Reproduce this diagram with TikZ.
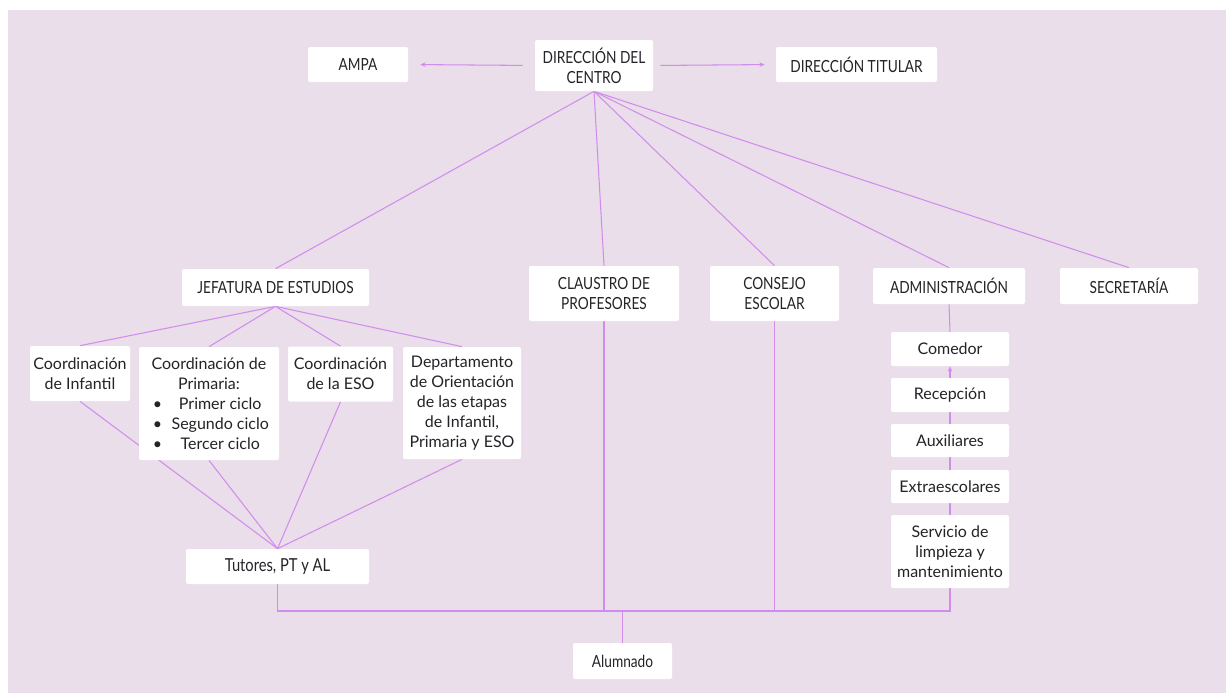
\documentclass[tikz,border=0pt]{standalone}
\usepackage{fontspec}
\setmainfont{Lato}
\newfontfamily\narrowfont[FakeStretch=0.82]{Lato}
\usetikzlibrary{arrows.meta}

\definecolor{bgCol}{RGB}{233,222,233}
\definecolor{lineCol}{RGB}{210,140,238}
\definecolor{txtCol}{RGB}{35,35,40}

\pgfdeclarelayer{bg}
\pgfdeclarelayer{edges}
\pgfsetlayers{bg,edges,main}

\begin{document}
\begin{tikzpicture}[x=0.02cm,y=-0.02cm]
%% Styles
\tikzset{
sz/.style 2 args={minimum width=#1*0.02cm, minimum height=#2*0.02cm},
box/.style={fill=white, rounded corners=0.04cm, inner sep=0pt, align=center, text=txtCol,
  font=\fontsize{9.1}{11.4}\selectfont},
capsbox/.style={box, font=\narrowfont\fontsize{9.5}{11.4}\selectfont},
conn/.style={draw=lineCol, line width=0.6pt},
arrowtip/.style={-{Stealth[length=3pt,width=2.6pt]}}
}
\useasboundingbox (0,0) rectangle (1226,693);

%% Top level
\node[capsbox,sz={118}{51}] (direccion) at (594,65.5) {DIRECCIÓN DEL\\CENTRO};
\node[capsbox,sz={100}{35}] (ampa) at (358,64.5) {AMPA};
\node[capsbox,sz={161}{35}] (titular) at (856.5,64.5) {DIRECCIÓN TITULAR};

%% Second level
\node[capsbox,sz={187}{37}] (jefatura) at (275.5,287.5) {JEFATURA DE ESTUDIOS};
\node[capsbox,sz={150}{55}] (claustro) at (604,293.5) {CLAUSTRO DE\\PROFESORES};
\node[capsbox,sz={129}{55}] (consejo) at (774.5,293.5) {CONSEJO\\ESCOLAR};
\node[capsbox,sz={152}{36}] (admin) at (949,286) {ADMINISTRACIÓN};
\node[capsbox,sz={138}{36}] (secretaria) at (1129,286) {SECRETARÍA};

%% Coordinations
\node[box,sz={100}{55}] (infantil) at (80,373.5) {Coordinación\\de Infantil};
\node[box,sz={140}{113}] (primaria) at (209,403.5) {Coordinación de\\Primaria:\\
  \makebox[0.45cm][l]{\textbullet}\makebox[1.8cm]{Primer ciclo}\\
  \makebox[0.45cm][l]{\textbullet}\makebox[1.8cm]{Segundo ciclo}\\
  \makebox[0.45cm][l]{\textbullet}\makebox[1.8cm]{Tercer ciclo}};
\node[box,sz={105}{55}] (eso) at (340.5,374) {Coordinación\\de la ESO};
\node[box,sz={118}{112}] (orientacion) at (462,403) {Departamento\\de Orientación\\de las etapas\\de Infantil,\\Primaria y ESO};
\node[capsbox,sz={183}{35},font=\narrowfont\fontsize{10.2}{12}\selectfont] (tutores) at (277.5,566.5) {Tutores, PT y AL};
\node[capsbox,sz={99}{36}] (alumnado) at (622.5,661) {Alumnado};

%% Administration staff
\foreach \n/\y/\h/\txt in {comedor/349/34/Comedor,
recepcion/395/34/Recepción,
auxiliares/440.5/33/Auxiliares,
extra/486.5/33/Extraescolares,
servicio/551.5/73/{Servicio de\\limpieza y\\mantenimiento}}{
\node[box,sz={118}{\h}] (\n) at (950,\y) {\txt};
}

\coordinate (busy) at (0,611);

\begin{pgfonlayer}{bg}
\path[fill=bgCol] (8,10) rectangle (1226,693);
\end{pgfonlayer}

\begin{pgfonlayer}{edges}
% Direction
\path[conn,arrowtip,shorten <=0.24cm,shorten >=0.24cm] (direccion.west) -- (ampa.east);
\path[conn,arrowtip,shorten <=0.14cm,shorten >=0.22cm] (direccion.east) -- (titular.west);
\foreach \n in {jefatura,claustro,consejo,admin,secretaria}{
\path[conn] (direccion.south) -- (\n.north);
}
% Heads of studies
\foreach \n in {infantil,primaria,eso,orientacion}{
\path[conn] (jefatura.south) -- (\n.north);
\path[conn] (\n.south) -- (tutores.north);
}
% Administration column
\path[conn] (admin.south) -- (comedor.north);
\path[conn,arrowtip] (recepcion.north) -- (comedor.south);
\path[conn] (recepcion.south) -- (auxiliares.north);
\path[conn] (auxiliares.south) -- (extra.north);
\path[conn] (extra.south) -- (servicio.north);
% Students bus
\path[conn] (tutores.south) -- (tutores.south |- busy) -- (servicio.south |- busy) -- (servicio.south);
\path[conn] (claustro.south) -- (claustro.south |- busy);
\path[conn] (consejo.south) -- (consejo.south |- busy);
\path[conn] (alumnado.north) -- (alumnado.north |- busy);
\end{pgfonlayer}

\end{tikzpicture}
\end{document}
